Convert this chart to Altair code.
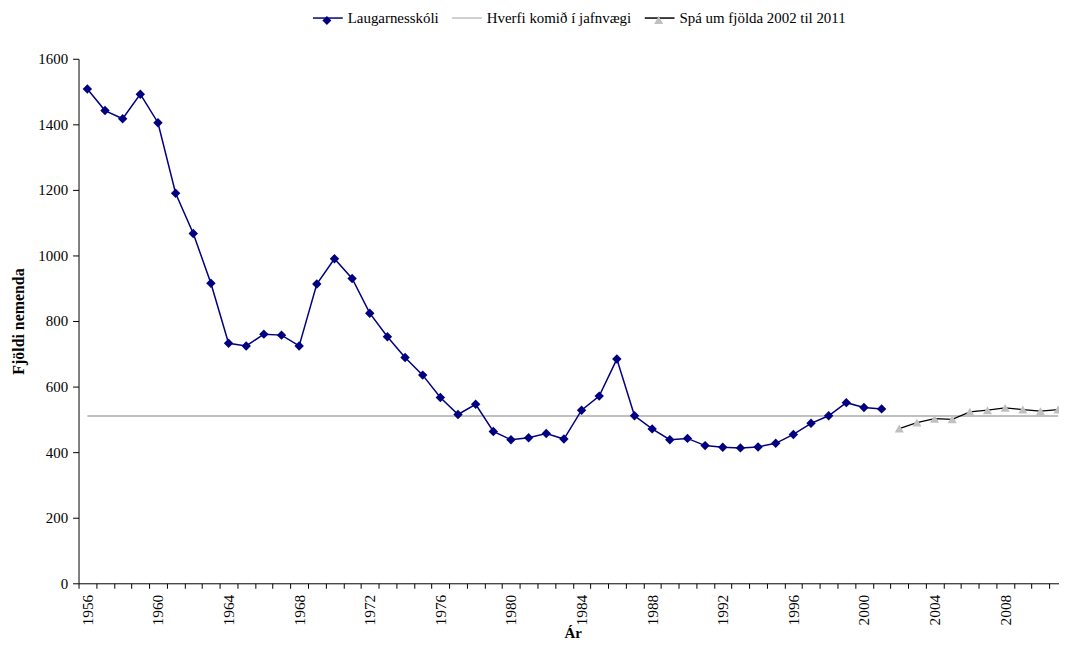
import altair as alt
import pandas as pd

# ---- data ----
school_years = [1956, 1957, 1958, 1959, 1960, 1961, 1962, 1963, 1964, 1965,
                1966, 1967, 1968, 1969, 1970, 1971, 1972, 1973, 1974, 1975,
                1976, 1977, 1978, 1979, 1980, 1981, 1982, 1983, 1984, 1985,
                1986, 1987, 1988, 1989, 1990, 1991, 1992, 1993, 1994, 1995,
                1996, 1997, 1998, 1999, 2000, 2001]
school_values = [1508, 1442, 1417, 1492, 1405, 1190, 1067, 915, 732, 724,
                 760, 757, 724, 913, 990, 930, 824, 752, 689, 635,
                 567, 515, 546, 463, 438, 444, 457, 440, 528, 571,
                 684, 511, 471, 438, 442, 420, 415, 413, 416, 427,
                 454, 488, 511, 551, 536, 532]

forecast_years = [2002, 2003, 2004, 2005, 2006, 2007, 2008, 2009, 2010, 2011]
forecast_values = [472, 490, 502, 500, 523, 528, 535, 530, 525, 530]

equilibrium_years = [1956, 2011]
equilibrium_values = [510, 510]

all_years = [1956, 1957, 1958, 1959, 1960, 1961, 1962, 1963, 1964, 1965,
             1966, 1967, 1968, 1969, 1970, 1971, 1972, 1973, 1974, 1975,
             1976, 1977, 1978, 1979, 1980, 1981, 1982, 1983, 1984, 1985,
             1986, 1987, 1988, 1989, 1990, 1991, 1992, 1993, 1994, 1995,
             1996, 1997, 1998, 1999, 2000, 2001, 2002, 2003, 2004, 2005,
             2006, 2007, 2008, 2009, 2010, 2011]

series_names = ["Laugarnesskóli", "Hverfi komið í jafnvægi",
                "Spá um fjölda 2002 til 2011"]
y_ticks = [0, 200, 400, 600, 800, 1000, 1200, 1400, 1600]

# ---- styling ----
FONT = "Liberation Serif"
NAVY = "#000080"
GREY = "#C0C0C0"
BLACK = "#000000"

school_df = pd.DataFrame({"year": school_years, "value": school_values})
forecast_df = pd.DataFrame({"year": forecast_years, "value": forecast_values})
eq_df = pd.DataFrame({"year": equilibrium_years, "value": equilibrium_values})
legend_df = pd.DataFrame({"series": series_names})
# marker legend uses names with a zero-width suffix so Vega-Lite keeps it separate
marker_names = [s + "\u200b" for s in series_names]
legend_df2 = pd.DataFrame({"series2": marker_names})

x_enc = alt.X(
    "year:O",
    scale=alt.Scale(type="band", domain=all_years, range=[0, 995],
                    paddingInner=0, paddingOuter=0),
    axis=alt.Axis(
        title="Ár",
        labelExpr="datum.value % 4 === 0 ? datum.label : ''",
        labelAngle=270,
        labelOverlap=False,
        tickBand="extent",
        tickSize=5,
        labelPadding=6,
        labelFont=FONT, labelFontSize=15.5, labelColor=BLACK,
        titleFont=FONT, titleFontSize=15, titleFontWeight="bold",
        titleColor=BLACK, titlePadding=1,
        domainColor=BLACK, tickColor=BLACK, grid=False,
    ),
)

y_enc = alt.Y(
    "value:Q",
    scale=alt.Scale(domain=[0, 1600], nice=False),
    axis=alt.Axis(
        title="Fjöldi nemenda",
        values=y_ticks,
        format="d",
        grid=False,
        tickSize=6,
        labelPadding=5,
        labelFont=FONT, labelFontSize=15, labelColor=BLACK,
        titleFont=FONT, titleFontSize=16, titleFontWeight="bold",
        titleColor=BLACK, titlePadding=11,
        domainColor=BLACK, tickColor=BLACK,
    ),
)

eq_line = alt.Chart(eq_df).mark_line(color=GREY, strokeWidth=2).encode(x=x_enc, y=y_enc)
school_line = alt.Chart(school_df).mark_line(color=NAVY, strokeWidth=1.5).encode(x=x_enc, y=y_enc)
school_pts = alt.Chart(school_df).mark_point(
    shape="diamond", filled=True, size=90, color=NAVY, opacity=1
).encode(x=x_enc, y=y_enc)
fc_line = alt.Chart(forecast_df).mark_line(color=BLACK, strokeWidth=1.3).encode(x=x_enc, y=y_enc)
fc_pts = alt.Chart(forecast_df).mark_point(
    shape="triangle-up", filled=True, size=85, color=GREY, opacity=1
).encode(x=x_enc, y=y_enc)

LEG_X = 235
LEG_Y = -57

common_leg = dict(
    title=None, orient="none", legendX=LEG_X, legendY=LEG_Y,
    direction="horizontal", symbolSize=900,
    labelFont=FONT, labelFontSize=15, labelColor=BLACK, labelLimit=0,
    labelOffset=4, symbolOffset=0, padding=0,
)

# legend 1: the line part of each legend symbol, with the labels
leg_lines = alt.Chart(legend_df).transform_filter("false").mark_line().encode(
    stroke=alt.Stroke(
        "series:N",
        scale=alt.Scale(domain=series_names, range=[NAVY, GREY, BLACK]),
        legend=alt.Legend(symbolType="M-1,0H1", symbolStrokeWidth=1.5,
                          columnPadding=10, **common_leg),
    )
)

DIAMOND = "M0,-0.3L0.3,0L0,0.3L-0.3,0Z"
TRIANGLE = "M0,-0.3L0.3,0.24L-0.3,0.24Z"
leg2 = alt.Legend(symbolStrokeWidth=0, symbolStrokeColor="transparent",
                  labelExpr="''", columnPadding=133, **common_leg)
# legend 2: the marker part of each legend symbol, drawn on top of legend 1
leg_marks = alt.Chart(legend_df2).transform_filter("false").mark_point(
    filled=True, opacity=1, strokeWidth=0
).encode(
    fill=alt.Fill(
        "series2:N",
        scale=alt.Scale(domain=marker_names, range=[NAVY, "transparent", GREY]),
        legend=leg2,
    ),
    shape=alt.Shape(
        "series2:N",
        scale=alt.Scale(domain=marker_names, range=[DIAMOND, "circle", TRIANGLE]),
        legend=leg2,
    ),
)

chart = alt.layer(
    eq_line, school_line, school_pts, fc_line, fc_pts, leg_lines, leg_marks
).properties(
    width=987,
    height=528,
    padding={"left": 71, "top": 49, "right": 0, "bottom": 59},
    autosize=alt.AutoSizeParams(type="none"),
    background="white",
).configure_view(stroke=None)

chart.save("out.html", embed_options={"renderer": "svg", "actions": False})
